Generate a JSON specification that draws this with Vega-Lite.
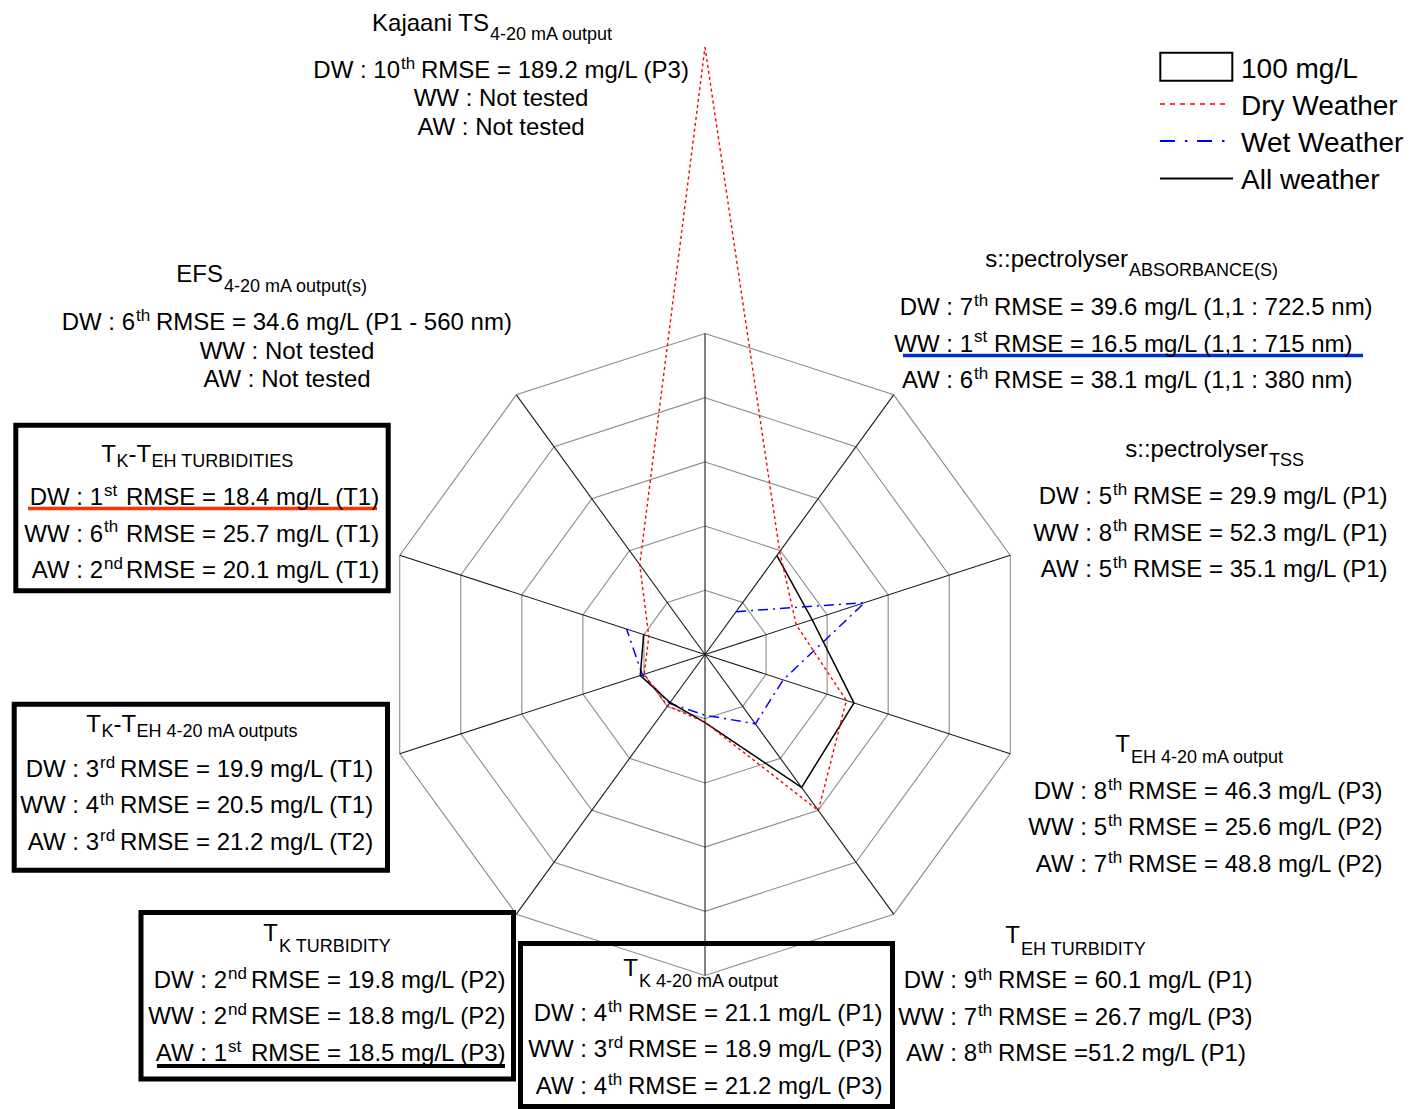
{
  "$schema": "https://vega.github.io/schema/vega-lite/v6.json",
  "width": 1415,
  "height": 1109,
  "padding": 0,
  "autosize": {"type": "none"},
  "background": "white",
  "config": {
    "view": {"stroke": null},
    "axis": {"disable": true},
    "text": {"font": "Liberation Sans", "fontSize": 24, "baseline": "alphabetic", "lineBreak": "\n", "lineHeight": 36.5, "color": "#000000"}
  },
  "datasets": {
    "rmse": [
      {"spoke": 0, "weather": "DW", "rmse": 189.2},
      {"spoke": 1, "weather": "DW", "rmse": 39.6},
      {"spoke": 2, "weather": "DW", "rmse": 29.9},
      {"spoke": 3, "weather": "DW", "rmse": 46.3},
      {"spoke": 4, "weather": "DW", "rmse": 60.1},
      {"spoke": 5, "weather": "DW", "rmse": 21.1},
      {"spoke": 6, "weather": "DW", "rmse": 19.8},
      {"spoke": 7, "weather": "DW", "rmse": 19.9},
      {"spoke": 8, "weather": "DW", "rmse": 18.4},
      {"spoke": 9, "weather": "DW", "rmse": 34.6},
      {"spoke": 1, "weather": "WW", "rmse": 16.5},
      {"spoke": 2, "weather": "WW", "rmse": 52.3},
      {"spoke": 3, "weather": "WW", "rmse": 25.6},
      {"spoke": 4, "weather": "WW", "rmse": 26.7},
      {"spoke": 5, "weather": "WW", "rmse": 18.9},
      {"spoke": 6, "weather": "WW", "rmse": 18.8},
      {"spoke": 7, "weather": "WW", "rmse": 20.5},
      {"spoke": 8, "weather": "WW", "rmse": 25.7},
      {"spoke": 1, "weather": "AW", "rmse": 38.1},
      {"spoke": 2, "weather": "AW", "rmse": 35.1},
      {"spoke": 3, "weather": "AW", "rmse": 48.8},
      {"spoke": 4, "weather": "AW", "rmse": 51.2},
      {"spoke": 5, "weather": "AW", "rmse": 21.2},
      {"spoke": 6, "weather": "AW", "rmse": 18.5},
      {"spoke": 7, "weather": "AW", "rmse": 21.2},
      {"spoke": 8, "weather": "AW", "rmse": 20.1}
    ],
    "rings": [
      {"r": 20, "spoke": [0, 1, 2, 3, 4, 5, 6, 7, 8, 9]},
      {"r": 40, "spoke": [0, 1, 2, 3, 4, 5, 6, 7, 8, 9]},
      {"r": 60, "spoke": [0, 1, 2, 3, 4, 5, 6, 7, 8, 9]},
      {"r": 80, "spoke": [0, 1, 2, 3, 4, 5, 6, 7, 8, 9]},
      {"r": 100, "spoke": [0, 1, 2, 3, 4, 5, 6, 7, 8, 9]}
    ],
    "labels": [
      {"spoke": 0, "main": "Kajaani TS", "sub": "4-20 mA output", "pre": "DW : 10", "sup": "th", "post": "RMSE = 189.2 mg/L (P3)", "nt": "WW : Not tested\nAW : Not tested"},
      {"spoke": 1, "main": "s::pectrolyser", "sub": "ABSORBANCE(S)", "pre": "DW : 7\nWW : 1\nAW : 6", "sup": "th\nst\nth", "post": "RMSE = 39.6 mg/L (1,1 : 722.5 nm)\nRMSE = 16.5 mg/L (1,1 : 715 nm)\nRMSE = 38.1 mg/L (1,1 : 380 nm)"},
      {"spoke": 2, "main": "s::pectrolyser", "sub": "TSS", "pre": "DW : 5\nWW : 8\nAW : 5", "sup": "th\nth\nth", "post": "RMSE = 29.9 mg/L (P1)\nRMSE = 52.3 mg/L (P1)\nRMSE = 35.1 mg/L (P1)"},
      {"spoke": 3, "main": "T", "sub": "EH 4-20 mA output", "pre": "DW : 8\nWW : 5\nAW : 7", "sup": "th\nth\nth", "post": "RMSE = 46.3 mg/L (P3)\nRMSE = 25.6 mg/L (P2)\nRMSE = 48.8 mg/L (P2)"},
      {"spoke": 4, "main": "T", "sub": "EH TURBIDITY", "pre": "DW : 9\nWW : 7\nAW : 8", "sup": "th\nth\nth", "post": "RMSE = 60.1 mg/L (P1)\nRMSE = 26.7 mg/L (P3)\nRMSE =51.2 mg/L (P1)"},
      {"spoke": 5, "main": "T", "sub": "K 4-20 mA output", "pre": "DW : 4\nWW : 3\nAW : 4", "sup": "th\nrd\nth", "post": "RMSE = 21.1 mg/L (P1)\nRMSE = 18.9 mg/L (P3)\nRMSE = 21.2 mg/L (P3)"},
      {"spoke": 6, "main": "T", "sub": "K TURBIDITY", "pre": "DW : 2\nWW : 2\nAW : 1", "sup": "nd\nnd\nst", "post": "RMSE = 19.8 mg/L (P2)\nRMSE = 18.8 mg/L (P2)\nRMSE = 18.5 mg/L (P3)"},
      {"spoke": 7, "main": "T", "sub": "K", "main2": "-T", "sub2": "EH 4-20 mA outputs", "pre": "DW : 3\nWW : 4\nAW : 3", "sup": "rd\nth\nrd", "post": "RMSE = 19.9 mg/L (T1)\nRMSE = 20.5 mg/L (T1)\nRMSE = 21.2 mg/L (T2)"},
      {"spoke": 8, "main": "T", "sub": "K", "main2": "-T", "sub2": "EH TURBIDITIES", "pre": "DW : 1\nWW : 6\nAW : 2", "sup": "st\nth\nnd", "post": "RMSE = 18.4 mg/L (T1)\nRMSE = 25.7 mg/L (T1)\nRMSE = 20.1 mg/L (T1)"},
      {"spoke": 9, "main": "EFS", "sub": "4-20 mA output(s)", "pre": "DW : 6", "sup": "th", "post": "RMSE = 34.6 mg/L (P1 - 560 nm)", "nt": "WW : Not tested\nAW : Not tested"}
    ]
  },
  "layer": [
    {
      "data": {"name": "rings"},
      "transform": [
        {"flatten": ["spoke"]},
        {"calculate": "(90 - 36 * datum.spoke) * PI / 180", "as": "a"},
        {"calculate": "datum.r * cos(datum.a)", "as": "px"},
        {"calculate": "datum.r * sin(datum.a)", "as": "py"}
      ],
      "mark": {"type": "line", "interpolate": "linear-closed", "color": "#8c8c8c", "strokeWidth": 1.1},
      "encoding": {
        "x": {"field": "px", "type": "quantitative", "scale": {"domain": [-219.626, 221.184], "nice": false, "zero": false}, "axis": null},
        "y": {"field": "py", "type": "quantitative", "scale": {"domain": [-141.589, 203.894], "nice": false, "zero": false}, "axis": null},
        "detail": {"field": "r", "type": "nominal"},
        "order": {"field": "spoke", "type": "quantitative"}
      }
    },
    {
      "data": {"name": "rings"},
      "transform": [
        {"filter": "datum.r == 100"},
        {"flatten": ["spoke"]},
        {"calculate": "(90 - 36 * datum.spoke) * PI / 180", "as": "a"},
        {"calculate": "datum.r * cos(datum.a)", "as": "px"},
        {"calculate": "datum.r * sin(datum.a)", "as": "py"}
      ],
      "mark": {"type": "rule", "color": "#1a1a1a", "strokeWidth": 1.1},
      "encoding": {
        "x": {"field": "px", "type": "quantitative"},
        "y": {"field": "py", "type": "quantitative"},
        "x2": {"datum": 0},
        "y2": {"datum": 0}
      }
    },
    {
      "data": {"name": "rmse"},
      "transform": [
        {"filter": "datum.weather != 'DW'"},
        {"calculate": "(90 - 36 * datum.spoke) * PI / 180", "as": "a"},
        {"calculate": "datum.rmse * cos(datum.a)", "as": "px"},
        {"calculate": "datum.rmse * sin(datum.a)", "as": "py"}
      ],
      "mark": {"type": "line", "strokeWidth": 1.5},
      "encoding": {
        "x": {"field": "px", "type": "quantitative"},
        "y": {"field": "py", "type": "quantitative"},
        "color": {"field": "weather", "type": "nominal", "scale": {"domain": ["DW", "WW", "AW"], "range": ["#ff0000", "#0000ff", "#000000"]}, "legend": null},
        "strokeDash": {"field": "weather", "type": "nominal", "scale": {"domain": ["DW", "WW", "AW"], "range": [[3, 3], [10, 5, 2, 5], [1, 0]]}, "legend": null},
        "order": {"field": "spoke", "type": "quantitative"}
      }
    },
    {
      "data": {"name": "rmse"},
      "transform": [
        {"filter": "datum.weather == 'DW'"},
        {"calculate": "(90 - 36 * datum.spoke) * PI / 180", "as": "a"},
        {"calculate": "datum.rmse * cos(datum.a)", "as": "px"},
        {"calculate": "datum.rmse * sin(datum.a)", "as": "py"}
      ],
      "mark": {"type": "line", "interpolate": "linear-closed", "strokeWidth": 1.4},
      "encoding": {
        "x": {"field": "px", "type": "quantitative"},
        "y": {"field": "py", "type": "quantitative"},
        "color": {"field": "weather", "type": "nominal", "legend": null},
        "strokeDash": {"field": "weather", "type": "nominal", "legend": null},
        "order": {"field": "spoke", "type": "quantitative"}
      }
    },
    {
      "data": {"values": [{}]},
      "layer": [
        {"mark": {"type": "rect", "filled": false, "stroke": "#000000", "strokeWidth": 5},
         "encoding": {"x": {"datum": -214.70}, "x2": {"datum": -98.69}, "y": {"datum": 71.43}, "y2": {"datum": 19.84}}},
        {"mark": {"type": "rect", "filled": false, "stroke": "#000000", "strokeWidth": 5},
         "encoding": {"x": {"datum": -215.20}, "x2": {"datum": -98.91}, "y": {"datum": -15.48}, "y2": {"datum": -67.20}}},
        {"mark": {"type": "rect", "filled": false, "stroke": "#000000", "strokeWidth": 5},
         "encoding": {"x": {"datum": -175.70}, "x2": {"datum": -59.66}, "y": {"datum": -80.37}, "y2": {"datum": -132.24}}},
        {"mark": {"type": "rect", "filled": false, "stroke": "#000000", "strokeWidth": 5},
         "encoding": {"x": {"datum": -57.48}, "x2": {"datum": 58.41}, "y": {"datum": -90.03}, "y2": {"datum": -140.81}}},
        {"mark": {"type": "rule", "color": "#ff3300", "strokeWidth": 3.5},
         "encoding": {"x": {"datum": -210.90}, "x2": {"datum": -102.18}, "y": {"datum": 45.48}}},
        {"mark": {"type": "rule", "color": "#0033cc", "strokeWidth": 3.5},
         "encoding": {"x": {"datum": 61.68}, "x2": {"datum": 204.98}, "y": {"datum": 93.15}}},
        {"mark": {"type": "rule", "color": "#000000", "strokeWidth": 4},
         "encoding": {"x": {"datum": -170.72}, "x2": {"datum": -62.31}, "y": {"datum": -128.19}}},
        {"mark": {"type": "rect", "filled": false, "stroke": "#000000", "strokeWidth": 2},
         "encoding": {"x": {"datum": 141.84}, "x2": {"datum": 164.27}, "y": {"datum": 187.48}, "y2": {"datum": 178.75}}},
        {"mark": {"type": "rule", "color": "#ff0000", "strokeWidth": 1.5, "strokeDash": [5, 5]},
         "encoding": {"x": {"datum": 141.74}, "x2": {"datum": 163.55}, "y": {"datum": 171.50}}},
        {"mark": {"type": "rule", "color": "#0000ff", "strokeWidth": 2, "strokeDash": [15, 10, 2.5, 9.5]},
         "encoding": {"x": {"datum": 141.74}, "x2": {"datum": 164.49}, "y": {"datum": 159.97}}},
        {"mark": {"type": "rule", "color": "#000000", "strokeWidth": 2},
         "encoding": {"x": {"datum": 141.74}, "x2": {"datum": 164.49}, "y": {"datum": 148.29}}},
        {"mark": {"type": "text", "align": "left", "fontSize": 28, "lineHeight": 37, "text": ["100 mg/L", "Dry Weather", "Wet Weather", "All weather"]},
         "encoding": {"x": {"datum": 166.98}, "y": {"datum": 179.60}}}
      ]
    },
    {
      "data": {"name": "labels"},
      "transform": [{"filter": "datum.spoke == 0"}],
      "layer": [
        {"mark": {"type": "text", "align": "right"}, "encoding": {"x": {"datum": -67.29}, "y": {"datum": 194.24}, "text": {"field": "main", "type": "nominal"}}},
        {"mark": {"type": "text", "align": "left", "fontSize": 18}, "encoding": {"x": {"datum": -66.98}, "y": {"datum": 191.43}, "text": {"field": "sub", "type": "nominal"}}},
        {"mark": {"type": "text", "align": "right"}, "encoding": {"x": {"datum": -95.02}, "y": {"datum": 179.60}, "text": {"field": "pre", "type": "nominal"}}},
        {"mark": {"type": "text", "align": "left", "fontSize": 17}, "encoding": {"x": {"datum": -94.70}, "y": {"datum": 182.40}, "text": {"field": "sup", "type": "nominal"}}},
        {"mark": {"type": "text", "align": "left"}, "encoding": {"x": {"datum": -88.47}, "y": {"datum": 179.60}, "text": {"field": "post", "type": "nominal"}}},
        {"mark": {"type": "text", "align": "center", "lineHeight": 28.5}, "encoding": {"x": {"datum": -63.55}, "y": {"datum": 170.87}, "text": {"field": "nt", "type": "nominal"}}}
      ]
    },
    {
      "data": {"name": "labels"},
      "transform": [{"filter": "datum.spoke == 9"}],
      "layer": [
        {"mark": {"type": "text", "align": "right"}, "encoding": {"x": {"datum": -150.16}, "y": {"datum": 116.04}, "text": {"field": "main", "type": "nominal"}}},
        {"mark": {"type": "text", "align": "left", "fontSize": 18}, "encoding": {"x": {"datum": -149.84}, "y": {"datum": 112.93}, "text": {"field": "sub", "type": "nominal"}}},
        {"mark": {"type": "text", "align": "right"}, "encoding": {"x": {"datum": -177.57}, "y": {"datum": 101.09}, "text": {"field": "pre", "type": "nominal"}}},
        {"mark": {"type": "text", "align": "left", "fontSize": 17}, "encoding": {"x": {"datum": -177.26}, "y": {"datum": 103.89}, "text": {"field": "sup", "type": "nominal"}}},
        {"mark": {"type": "text", "align": "left"}, "encoding": {"x": {"datum": -171.03}, "y": {"datum": 101.09}, "text": {"field": "post", "type": "nominal"}}},
        {"mark": {"type": "text", "align": "center", "lineHeight": 28.5}, "encoding": {"x": {"datum": -130.22}, "y": {"datum": 92.21}, "text": {"field": "nt", "type": "nominal"}}}
      ]
    },
    {
      "data": {"name": "labels"},
      "transform": [{"filter": "datum.spoke == 1"}],
      "layer": [
        {"mark": {"type": "text", "align": "right"}, "encoding": {"x": {"datum": 131.78}, "y": {"datum": 120.72}, "text": {"field": "main", "type": "nominal"}}},
        {"mark": {"type": "text", "align": "left", "fontSize": 18}, "encoding": {"x": {"datum": 132.09}, "y": {"datum": 117.91}, "text": {"field": "sub", "type": "nominal"}}},
        {"mark": {"type": "text", "align": "right"}, "encoding": {"x": {"datum": 83.49}, "y": {"datum": 105.76}, "text": {"field": "pre", "type": "nominal"}}},
        {"mark": {"type": "text", "align": "left", "fontSize": 17}, "encoding": {"x": {"datum": 83.80}, "y": {"datum": 108.57}, "text": {"field": "sup", "type": "nominal"}}},
        {"mark": {"type": "text", "align": "left"}, "encoding": {"x": {"datum": 90.03}, "y": {"datum": 105.76}, "text": {"field": "post", "type": "nominal"}}}
      ]
    },
    {
      "data": {"name": "labels"},
      "transform": [{"filter": "datum.spoke == 2"}],
      "layer": [
        {"mark": {"type": "text", "align": "right"}, "encoding": {"x": {"datum": 175.39}, "y": {"datum": 61.53}, "text": {"field": "main", "type": "nominal"}}},
        {"mark": {"type": "text", "align": "left", "fontSize": 18}, "encoding": {"x": {"datum": 175.70}, "y": {"datum": 58.72}, "text": {"field": "sub", "type": "nominal"}}},
        {"mark": {"type": "text", "align": "right"}, "encoding": {"x": {"datum": 126.79}, "y": {"datum": 46.88}, "text": {"field": "pre", "type": "nominal"}}},
        {"mark": {"type": "text", "align": "left", "fontSize": 17}, "encoding": {"x": {"datum": 127.10}, "y": {"datum": 49.69}, "text": {"field": "sup", "type": "nominal"}}},
        {"mark": {"type": "text", "align": "left"}, "encoding": {"x": {"datum": 133.33}, "y": {"datum": 46.88}, "text": {"field": "post", "type": "nominal"}}}
      ]
    },
    {
      "data": {"name": "labels"},
      "transform": [{"filter": "datum.spoke == 3"}],
      "layer": [
        {"mark": {"type": "text", "align": "right"}, "encoding": {"x": {"datum": 132.40}, "y": {"datum": -30.37}, "text": {"field": "main", "type": "nominal"}}},
        {"mark": {"type": "text", "align": "left", "fontSize": 18}, "encoding": {"x": {"datum": 132.71}, "y": {"datum": -33.80}, "text": {"field": "sub", "type": "nominal"}}},
        {"mark": {"type": "text", "align": "right"}, "encoding": {"x": {"datum": 125.23}, "y": {"datum": -44.86}, "text": {"field": "pre", "type": "nominal"}}},
        {"mark": {"type": "text", "align": "left", "fontSize": 17}, "encoding": {"x": {"datum": 125.55}, "y": {"datum": -42.06}, "text": {"field": "sup", "type": "nominal"}}},
        {"mark": {"type": "text", "align": "left"}, "encoding": {"x": {"datum": 131.78}, "y": {"datum": -44.86}, "text": {"field": "post", "type": "nominal"}}}
      ]
    },
    {
      "data": {"name": "labels"},
      "transform": [{"filter": "datum.spoke == 4"}],
      "layer": [
        {"mark": {"type": "text", "align": "right"}, "encoding": {"x": {"datum": 98.13}, "y": {"datum": -90.03}, "text": {"field": "main", "type": "nominal"}}},
        {"mark": {"type": "text", "align": "left", "fontSize": 18}, "encoding": {"x": {"datum": 98.44}, "y": {"datum": -93.61}, "text": {"field": "sub", "type": "nominal"}}},
        {"mark": {"type": "text", "align": "right"}, "encoding": {"x": {"datum": 84.74}, "y": {"datum": -104.05}, "text": {"field": "pre", "type": "nominal"}}},
        {"mark": {"type": "text", "align": "left", "fontSize": 17}, "encoding": {"x": {"datum": 85.05}, "y": {"datum": -101.25}, "text": {"field": "sup", "type": "nominal"}}},
        {"mark": {"type": "text", "align": "left"}, "encoding": {"x": {"datum": 91.28}, "y": {"datum": -104.05}, "text": {"field": "post", "type": "nominal"}}}
      ]
    },
    {
      "data": {"name": "labels"},
      "transform": [{"filter": "datum.spoke == 5"}],
      "layer": [
        {"mark": {"type": "text", "align": "right"}, "encoding": {"x": {"datum": -20.87}, "y": {"datum": -100.16}, "text": {"field": "main", "type": "nominal"}}},
        {"mark": {"type": "text", "align": "left", "fontSize": 18}, "encoding": {"x": {"datum": -20.56}, "y": {"datum": -103.58}, "text": {"field": "sub", "type": "nominal"}}},
        {"mark": {"type": "text", "align": "right"}, "encoding": {"x": {"datum": -30.53}, "y": {"datum": -114.17}, "text": {"field": "pre", "type": "nominal"}}},
        {"mark": {"type": "text", "align": "left", "fontSize": 17}, "encoding": {"x": {"datum": -30.22}, "y": {"datum": -111.37}, "text": {"field": "sup", "type": "nominal"}}},
        {"mark": {"type": "text", "align": "left"}, "encoding": {"x": {"datum": -23.99}, "y": {"datum": -114.17}, "text": {"field": "post", "type": "nominal"}}}
      ]
    },
    {
      "data": {"name": "labels"},
      "transform": [{"filter": "datum.spoke == 6"}],
      "layer": [
        {"mark": {"type": "text", "align": "right"}, "encoding": {"x": {"datum": -133.02}, "y": {"datum": -89.25}, "text": {"field": "main", "type": "nominal"}}},
        {"mark": {"type": "text", "align": "left", "fontSize": 18}, "encoding": {"x": {"datum": -132.71}, "y": {"datum": -92.68}, "text": {"field": "sub", "type": "nominal"}}},
        {"mark": {"type": "text", "align": "right"}, "encoding": {"x": {"datum": -148.91}, "y": {"datum": -103.89}, "text": {"field": "pre", "type": "nominal"}}},
        {"mark": {"type": "text", "align": "left", "fontSize": 17}, "encoding": {"x": {"datum": -148.60}, "y": {"datum": -101.09}, "text": {"field": "sup", "type": "nominal"}}},
        {"mark": {"type": "text", "align": "left"}, "encoding": {"x": {"datum": -141.43}, "y": {"datum": -103.89}, "text": {"field": "post", "type": "nominal"}}}
      ]
    },
    {
      "data": {"name": "labels"},
      "transform": [{"filter": "datum.spoke == 7"}],
      "layer": [
        {"mark": {"type": "text", "align": "right"}, "encoding": {"x": {"datum": -188.16}, "y": {"datum": -23.99}, "text": {"field": "main", "type": "nominal"}}},
        {"mark": {"type": "text", "align": "left", "fontSize": 18}, "encoding": {"x": {"datum": -188.01}, "y": {"datum": -25.55}, "text": {"field": "sub", "type": "nominal"}}},
        {"mark": {"type": "text", "align": "left"}, "encoding": {"x": {"datum": -184.27}, "y": {"datum": -23.99}, "text": {"field": "main2", "type": "nominal"}}},
        {"mark": {"type": "text", "align": "left", "fontSize": 18}, "encoding": {"x": {"datum": -177.10}, "y": {"datum": -25.55}, "text": {"field": "sub2", "type": "nominal"}}},
        {"mark": {"type": "text", "align": "right"}, "encoding": {"x": {"datum": -188.79}, "y": {"datum": -38.16}, "text": {"field": "pre", "type": "nominal"}}},
        {"mark": {"type": "text", "align": "left", "fontSize": 17}, "encoding": {"x": {"datum": -188.47}, "y": {"datum": -35.36}, "text": {"field": "sup", "type": "nominal"}}},
        {"mark": {"type": "text", "align": "left"}, "encoding": {"x": {"datum": -182.24}, "y": {"datum": -38.16}, "text": {"field": "post", "type": "nominal"}}}
      ]
    },
    {
      "data": {"name": "labels"},
      "transform": [{"filter": "datum.spoke == 8"}],
      "layer": [
        {"mark": {"type": "text", "align": "right"}, "encoding": {"x": {"datum": -183.49}, "y": {"datum": 59.97}, "text": {"field": "main", "type": "nominal"}}},
        {"mark": {"type": "text", "align": "left", "fontSize": 18}, "encoding": {"x": {"datum": -183.33}, "y": {"datum": 58.41}, "text": {"field": "sub", "type": "nominal"}}},
        {"mark": {"type": "text", "align": "left"}, "encoding": {"x": {"datum": -179.60}, "y": {"datum": 59.97}, "text": {"field": "main2", "type": "nominal"}}},
        {"mark": {"type": "text", "align": "left", "fontSize": 18}, "encoding": {"x": {"datum": -172.43}, "y": {"datum": 58.41}, "text": {"field": "sub2", "type": "nominal"}}},
        {"mark": {"type": "text", "align": "right"}, "encoding": {"x": {"datum": -187.54}, "y": {"datum": 46.57}, "text": {"field": "pre", "type": "nominal"}}},
        {"mark": {"type": "text", "align": "left", "fontSize": 17}, "encoding": {"x": {"datum": -187.23}, "y": {"datum": 49.38}, "text": {"field": "sup", "type": "nominal"}}},
        {"mark": {"type": "text", "align": "left"}, "encoding": {"x": {"datum": -180.37}, "y": {"datum": 46.57}, "text": {"field": "post", "type": "nominal"}}}
      ]
    }
  ]
}
